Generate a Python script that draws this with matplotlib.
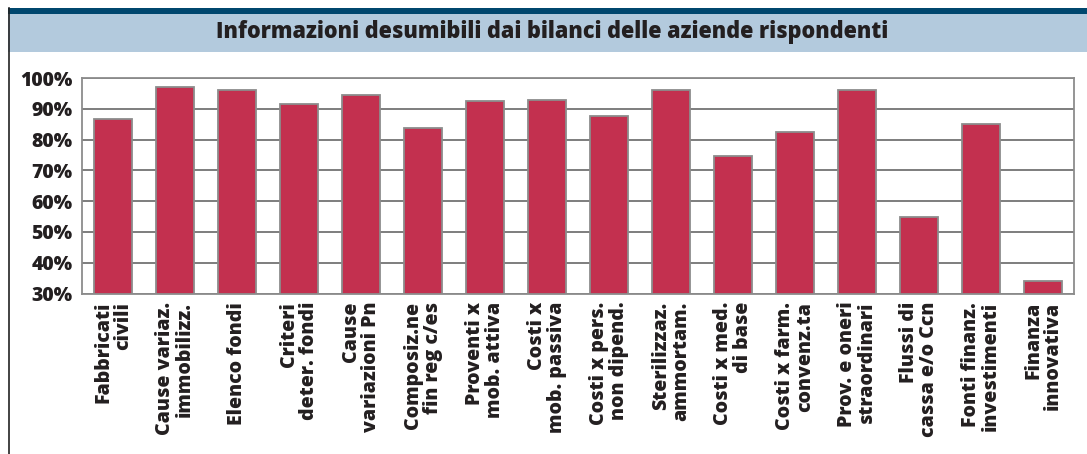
import matplotlib
matplotlib.use("Agg")
import matplotlib.pyplot as plt
from matplotlib.patches import Rectangle
from matplotlib.lines import Line2D
from matplotlib.ticker import FuncFormatter

categories = [
    "Fabbricati\ncivili",
    "Cause variaz.\nimmobilizz.",
    "Elenco fondi",
    "Criteri\ndeter. fondi",
    "Cause\nvariazioni Pn",
    "Composiz.ne\nfin reg c/es",
    "Proventi x\nmob. attiva",
    "Costi x\nmob. passiva",
    "Costi x pers.\nnon dipend.",
    "Sterilizzaz.\nammortam.",
    "Costi x med.\ndi base",
    "Costi x farm.\nconvenz.ta",
    "Prov. e oneri\nstraordinari",
    "Flussi di\ncassa e/o Ccn",
    "Fonti finanz.\ninvestimenti",
    "Finanza\ninnovativa",
]
values = [86.7, 97.2, 96.2, 91.5, 94.6, 83.7, 92.4, 92.8, 87.7, 96.2, 74.6, 82.4, 96.2, 55.0, 85.0, 34.2]
yticks = [30, 40, 50, 60, 70, 80, 90, 100]
title = "Informazioni desumibili dai bilanci delle aziende rispondenti"

FONT = ["Open Sans", "DejaVu Sans"]
plt.rcParams["font.family"] = FONT
WEIGHT = 800

W, H = 1087, 454
fig = plt.figure(figsize=(W / 100, H / 100), dpi=100)
fig.patch.set_facecolor("white")

# header bands
fig.patches.append(Rectangle((8 / W, 1 - 52 / H), 1 - 8 / W, 39 / H, transform=fig.transFigure,
                             facecolor="#b3cadd", edgecolor="none", zorder=0))
fig.patches.append(Rectangle((8 / W, 1 - 13.5 / H), 1 - 8 / W, 5.5 / H, transform=fig.transFigure,
                             facecolor="#00476e", edgecolor="none", zorder=1))
fig.lines.append(Line2D([8.5 / W, 8.5 / W], [0, 1 - 8 / H], transform=fig.transFigure,
                        color="#222222", linewidth=1.2))
fig.text(552 / W, 1 - 32.5 / H, title, ha="center", va="center", fontsize=15.6,
         fontweight=WEIGHT, color="#231f20")

ax = fig.add_axes([82 / W, 1 - 293.5 / H, (1074 - 82) / W, (293.5 - 78) / H])
x = list(range(len(categories)))
ax.bar(x, [v - 30 for v in values], bottom=30, width=0.61, color="#c3304f",
       edgecolor="#8c8c8c", linewidth=1.3, zorder=3)
ax.set_xlim(-0.5, len(categories) - 0.5)
ax.set_ylim(30, 100)
ax.set_yticks(yticks)
ax.yaxis.set_major_formatter(FuncFormatter(lambda v, p: f"{int(v)}%"))
ax.yaxis.grid(True, color="#5a5a5a", linewidth=1.1, zorder=0)
ax.set_axisbelow(True)
for s in ax.spines.values():
    s.set_color("#8c8c8c")
    s.set_linewidth(1.3)
ax.tick_params(axis="y", length=0, pad=7, labelsize=14, labelcolor="#231f20")
ax.tick_params(axis="x", length=0, pad=6)
for lab in ax.get_yticklabels():
    lab.set_fontweight(WEIGHT)
ax.set_xticks(x)
ax.set_xticklabels(categories, rotation=90, fontsize=14, fontweight=WEIGHT,
                   color="#231f20", ha="center", va="top", multialignment="right",
                   linespacing=1.0)

fig.savefig("out.png", dpi=100, facecolor="white")
